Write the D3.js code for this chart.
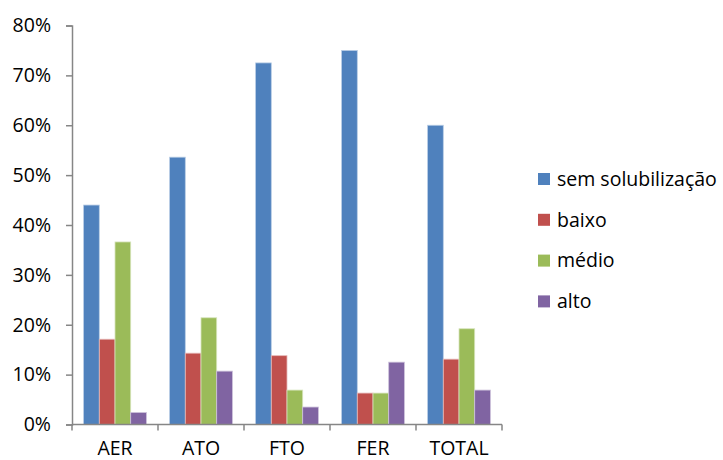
<!DOCTYPE html>
<html>
<head>
<meta charset="utf-8">
<script src="https://cdn.jsdelivr.net/npm/d3@7"></script>
<style>
  html, body { margin: 0; padding: 0; background: #fff; }
  svg { display: block; font-family: "Open Sans", "Noto Sans", sans-serif; }
</style>
</head>
<body>
<svg id="chart" width="723" height="460"></svg>
<script>
// Solubilization levels per group (fractions)
const categories = ["AER", "ATO", "FTO", "FER", "TOTAL"];
const seriesNames = ["sem solubilização", "baixo", "médio", "alto"];
const semSolubilizacao = [0.440, 0.536, 0.725, 0.750, 0.600];
const baixo = [0.171, 0.143, 0.138, 0.063, 0.131];
const medio = [0.366, 0.214, 0.069, 0.063, 0.192];
const alto = [0.024, 0.107, 0.035, 0.125, 0.069];
const yTicks = [0, 0.1, 0.2, 0.3, 0.4, 0.5, 0.6, 0.7, 0.8];
const colors = ["#4F81BD", "#C0504D", "#9BBB59", "#8064A2"];
const edgeColors = ["#B9CDE5", "#E6B9B8", "#D7E4BD", "#CCC1DA"];

const seriesValues = [semSolubilizacao, baixo, medio, alto];

const svg = d3.select("#chart");
const plotLeft = 72, plotRight = 502, plotTop = 25.5, plotBottom = 424.5;
const axisColor = "#868686";
const fontSize = 19.5;

const y = d3.scaleLinear().domain([0, 0.8]).range([plotBottom, plotTop]);
const x0 = d3.scaleBand().domain(categories).range([plotLeft, plotRight]).padding(0);
const x1 = d3.scaleBand().domain(seriesNames)
  .range([11.6, x0.bandwidth() - 11.6]).padding(0);

// Bars
const groups = svg.append("g").selectAll("g")
  .data(categories)
  .join("g")
  .attr("transform", d => `translate(${x0(d)},0)`);

groups.selectAll("rect")
  .data((c, ci) => seriesNames.map((s, si) => ({ s, si, v: seriesValues[si][ci] })))
  .join("rect")
  .attr("x", d => x1(d.s))
  .attr("y", d => y(d.v))
  .attr("width", x1.bandwidth())
  .attr("height", d => plotBottom - y(d.v))
  .attr("fill", d => colors[d.si])
  .attr("stroke", d => edgeColors[d.si])
  .attr("stroke-width", 0.8);

// Y axis
const yAxis = d3.axisLeft(y).tickValues(yTicks)
  .tickFormat(d3.format(".0%")).tickSize(6).tickPadding(15);
const gy = svg.append("g").attr("transform", `translate(${plotLeft},0)`).call(yAxis);
gy.select(".domain").attr("stroke", axisColor).attr("stroke-width", 1.5);
gy.selectAll(".tick line").attr("stroke", axisColor).attr("stroke-width", 1.5);
gy.selectAll(".tick text").attr("font-size", fontSize).attr("fill", "#000")
  .attr("font-family", "\"Open Sans\", sans-serif");

// X axis: baseline with ticks on category boundaries
const gx = svg.append("g");
gx.append("line").attr("x1", plotLeft).attr("x2", plotRight)
  .attr("y1", plotBottom).attr("y2", plotBottom)
  .attr("stroke", axisColor).attr("stroke-width", 1.5);
const bounds = categories.map(c => x0(c)).concat([plotRight]);
gx.selectAll("line.tk").data(bounds).join("line").attr("class", "tk")
  .attr("x1", d => d).attr("x2", d => d)
  .attr("y1", plotBottom).attr("y2", plotBottom + 6)
  .attr("stroke", axisColor).attr("stroke-width", 1.5);
gx.selectAll("text").data(categories).join("text")
  .attr("x", d => x0(d) + x0.bandwidth() / 2)
  .attr("y", 454.5)
  .attr("text-anchor", "middle")
  .attr("font-size", fontSize)
  .text(d => d);

// Legend
const legend = svg.append("g").selectAll("g")
  .data(seriesNames).join("g")
  .attr("transform", (d, i) => `translate(538,${179 + i * 40.8})`);
legend.append("rect").attr("x", 0).attr("y", -6).attr("width", 12).attr("height", 12)
  .attr("fill", (d, i) => colors[i]);
legend.append("text").attr("x", 19).attr("y", 0).attr("dy", "0.35em")
  .attr("font-size", fontSize).text(d => d);
</script>
</body>
</html>
